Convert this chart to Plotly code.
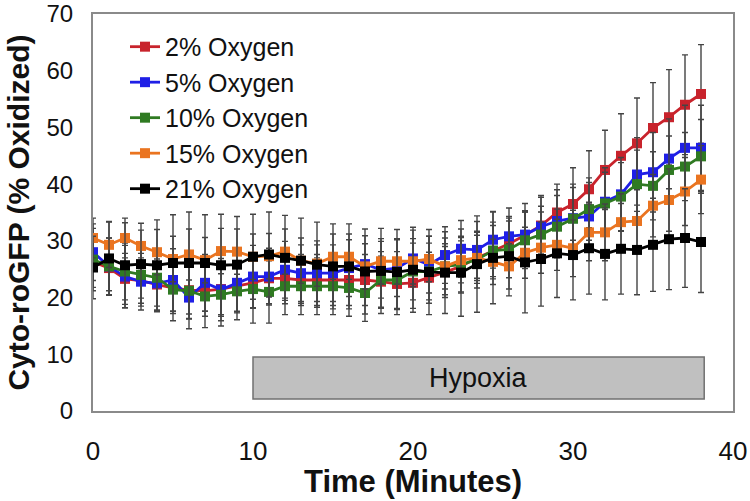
import plotly.graph_objects as go

time_min = list(range(39))

red = [26.3, 25.2, 23.3, 23.0, 22.3, 21.7, 21.3, 21.2, 21.5, 22.0, 22.6, 23.4, 23.4, 23.1, 23.1, 23.1, 23.1, 23.1, 22.8, 22.4,
       22.6, 23.5, 24.5, 25.5, 27.0, 28.2, 29.5, 31.0, 32.7, 35.0, 36.5, 39.1, 42.5, 45.0, 47.2, 49.9, 51.8, 54.0, 55.9]
blue = [28.0, 25.5, 23.7, 22.8, 22.5, 23.1, 20.0, 22.6, 21.4, 22.6, 23.7, 23.7, 24.9, 24.3, 24.3, 24.3, 25.2, 25.9, 24.9, 25.2,
        26.9, 25.8, 27.5, 28.6, 28.4, 30.2, 30.8, 31.1, 32.5, 33.5, 34.0, 34.3, 36.9, 38.2, 41.7, 42.1, 44.5, 46.4, 46.4]
green = [26.7, 25.5, 24.6, 24.0, 23.5, 21.4, 21.2, 20.2, 20.5, 21.1, 21.5, 21.0, 22.0, 22.0, 22.0, 22.0, 21.7, 20.8, 23.1, 23.1,
         24.6, 24.6, 25.5, 25.8, 26.7, 28.3, 28.5, 30.1, 31.1, 32.5, 33.9, 35.6, 36.6, 37.8, 40.0, 39.7, 42.5, 43.1, 44.9]
orange = [30.5, 29.3, 30.5, 29.1, 28.0, 26.8, 27.6, 26.6, 28.2, 28.1, 27.2, 27.3, 28.1, 26.5, 26.0, 27.2, 27.2, 25.5, 26.4, 26.4,
          26.4, 26.8, 25.5, 26.6, 27.0, 26.3, 25.5, 27.9, 28.8, 29.3, 28.7, 31.5, 31.5, 33.3, 33.5, 36.2, 37.2, 38.7, 40.8]
black = [25.3, 26.9, 25.7, 25.9, 25.7, 26.1, 26.1, 26.1, 25.7, 25.8, 27.2, 27.6, 27.0, 26.5, 25.8, 25.5, 25.5, 24.6, 24.7, 24.5,
         24.9, 24.5, 24.4, 24.4, 25.9, 27.0, 27.3, 26.2, 26.8, 27.8, 27.5, 28.7, 27.7, 28.6, 28.4, 29.3, 30.3, 30.5, 29.8]

red_err = [4.5, 4.0, 4.5, 4.0, 4.5, 4.5, 5.0, 4.5, 4.5, 4.5, 4.5, 4.5, 4.5, 4.5, 4.5, 4.5, 4.5, 4.5, 4.5, 4.5,
           4.5, 4.5, 4.5, 4.5, 4.5, 4.5, 4.5, 4.3, 5.0, 5.0, 6.4, 6.8, 7.0, 7.4, 8.0, 8.0, 8.4, 8.8, 8.7]
blue_err = [5.0, 5.0, 5.5, 5.0, 5.0, 5.5, 5.5, 5.0, 5.5, 5.0, 5.5, 5.0, 5.0, 5.0, 5.0, 5.0, 5.0, 5.0, 5.0, 5.0,
            5.0, 5.0, 5.0, 5.0, 5.0, 5.0, 5.0, 5.5, 5.5, 5.5, 6.0, 6.0, 6.0, 6.5, 6.5, 7.0, 7.0, 7.5, 7.5]
green_err = [5.5, 5.0, 5.0, 5.5, 5.0, 5.5, 5.0, 5.5, 5.5, 5.0, 6.0, 5.5, 5.0, 5.0, 5.0, 5.0, 5.0, 5.0, 5.0, 5.0,
             5.0, 5.0, 5.0, 5.0, 5.0, 5.0, 5.0, 5.0, 5.0, 5.5, 5.5, 5.5, 5.5, 6.0, 6.0, 6.0, 6.0, 6.0, 6.5]
orange_err = [3.5, 4.0, 3.5, 4.0, 4.0, 4.0, 4.5, 4.0, 4.0, 4.0, 4.0, 4.0, 4.0, 4.0, 4.0, 4.0, 4.0, 4.0, 4.0, 4.0,
              4.0, 4.0, 4.0, 4.0, 4.0, 4.0, 4.0, 4.5, 4.5, 4.5, 5.0, 5.0, 5.0, 5.0, 5.5, 5.5, 5.5, 6.0, 6.0]
black_err = [5.5, 6.5, 7.5, 6.0, 8.0, 8.5, 9.0, 8.5, 9.0, 8.5, 7.5, 7.5, 7.5, 7.5, 7.5, 7.5, 7.5, 7.5, 7.5, 7.5,
             7.5, 7.5, 7.2, 7.7, 8.5, 8.1, 7.0, 8.9, 8.3, 7.8, 7.9, 8.1, 8.1, 8.0, 7.9, 8.2, 8.9, 8.7, 8.9]

series_names = ["2% Oxygen", "5% Oxygen", "10% Oxygen", "15% Oxygen", "21% Oxygen"]
series_values = [red, blue, green, orange, black]
series_errors = [red_err, blue_err, green_err, orange_err, black_err]
series_colors = ["#c8232c", "#1f1fe6", "#2f7a22", "#ea7420", "#000000"]

x_ticks = [0, 10, 20, 30, 40]
y_ticks = [0, 10, 20, 30, 40, 50, 60, 70]
x_title = "Time (Minutes)"
y_title = "Cyto-roGFP (% Oxidized)"

hypoxia_start, hypoxia_end = 10, 38.2
hypoxia_low, hypoxia_high = 2.1, 9.5
hypoxia_label = "Hypoxia"

FONT = "Arial, Liberation Sans, sans-serif"

fig = go.Figure()
for name, vals, errs, col in zip(series_names, series_values, series_errors, series_colors):
    fig.add_trace(go.Scatter(
        x=time_min, y=vals, name=name, mode="lines+markers",
        line=dict(color=col, width=2.8),
        marker=dict(symbol="square", size=10, color=col),
        error_y=dict(type="data", array=errs, visible=True, color="#444444", thickness=1.4, width=3),
    ))

fig.add_shape(type="rect", xref="x", yref="y", x0=hypoxia_start, x1=hypoxia_end,
              y0=hypoxia_low, y1=hypoxia_high, fillcolor="#c0c0c0",
              line=dict(color="#707070", width=1.5), layer="below")
fig.add_annotation(x=(hypoxia_start + hypoxia_end) / 2, y=(hypoxia_low + hypoxia_high) / 2,
                   xref="x", yref="y", text=hypoxia_label, showarrow=False,
                   font=dict(family=FONT, size=27, color="#111111"))
fig.add_annotation(x=-0.117, y=0.5, xref="paper", yref="paper", text=f"<b>{y_title}</b>",
                   textangle=-90, showarrow=False, xanchor="center", yanchor="middle",
                   font=dict(family=FONT, size=30, color="#111111"))
fig.add_annotation(x=0.5, y=-0.178, xref="paper", yref="paper", text=f"<b>{x_title}</b>",
                   showarrow=False, xanchor="center", yanchor="middle",
                   font=dict(family=FONT, size=31, color="#111111"))

fig.update_layout(
    width=750, height=501,
    margin=dict(l=93, r=17, t=14, b=90),
    paper_bgcolor="white", plot_bgcolor="white",
    font=dict(family=FONT, color="#111111"),
    showlegend=True,
    legend=dict(x=0.05, y=0.975, xanchor="left", yanchor="top",
                font=dict(family=FONT, size=25, color="#111111"),
                bgcolor="rgba(0,0,0,0)", tracegroupgap=0),
    xaxis=dict(range=[0, 40], tickvals=x_ticks, showgrid=False, zeroline=False,
               showline=True, linecolor="#8a8a8a", linewidth=2, mirror=True,
               ticks="", tickfont=dict(family=FONT, size=26, color="#111111"),
               ticklabelstandoff=16, ticklabeloverflow="allow", automargin=False),
    yaxis=dict(range=[0, 70], tickvals=y_ticks, showgrid=False, zeroline=False,
               showline=True, linecolor="#8a8a8a", linewidth=2, mirror=True,
               ticks="", tickfont=dict(family=FONT, size=24, color="#111111"),
               ticklabelstandoff=13, ticklabeloverflow="allow", automargin=False),
)

fig.write_html("out.html", config={"displayModeBar": False},
               post_script="document.body.style.margin='0';document.body.style.overflow='hidden';")
